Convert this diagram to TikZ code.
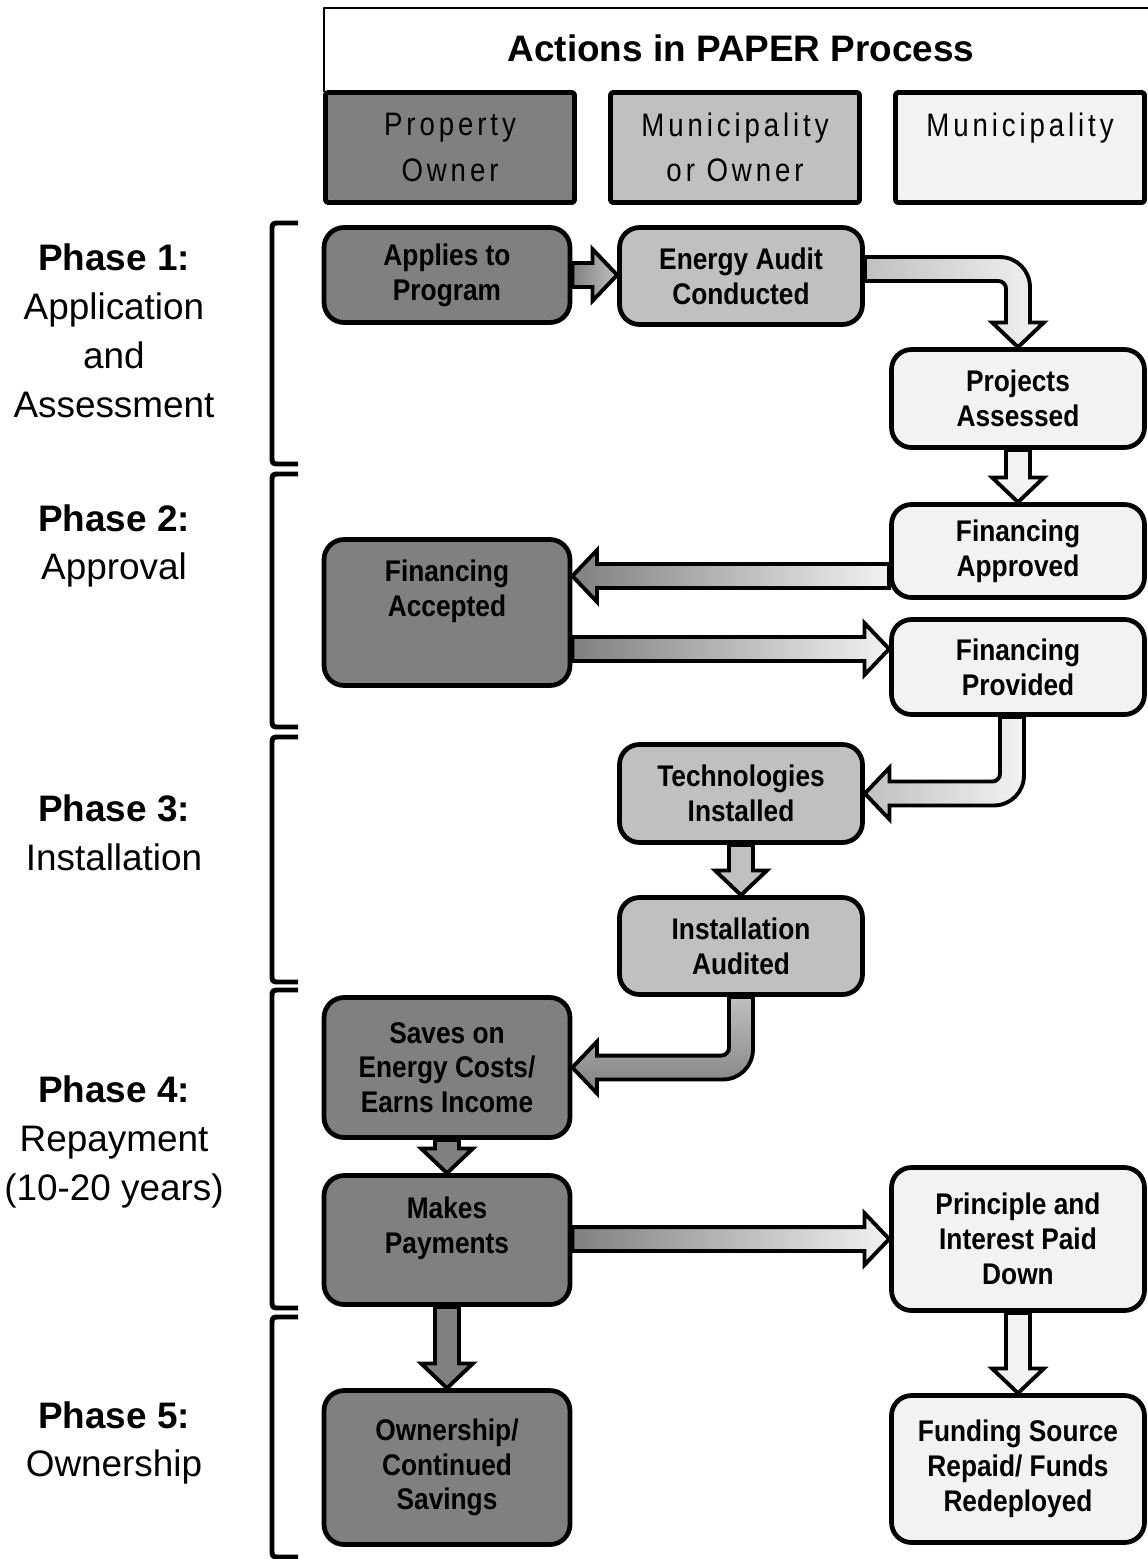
\documentclass[tikz,border=0pt]{standalone}
\usepackage{fontspec}
\setmainfont{Liberation Sans}
\newfontfamily\boxfont[FakeStretch=0.88]{Liberation Sans}
\newfontfamily\headfont[FakeStretch=0.85,LetterSpace=12]{Liberation Sans}
\usetikzlibrary{calc,backgrounds}
\definecolor{ownergray}{RGB}{128,128,128}
\definecolor{eithergray}{RGB}{192,192,192}
\definecolor{munigray}{RGB}{242,242,242}

\begin{document}
\begin{tikzpicture}[x=0.02cm, y=-0.02cm, line join=round,
  stepbox/.style={draw, rounded corners=0.4cm, line width=2.7pt, align=center,
    font=\boxfont\bfseries\fontsize{17}{19.8}\selectfont},
  ownerbox/.style={stepbox, fill=ownergray, minimum width=4.92cm},
  eitherbox/.style={stepbox, fill=eithergray, minimum width=4.86cm},
  munibox/.style={stepbox, fill=munigray, minimum width=5.06cm},
  headbox/.style={draw, line width=2.8pt, rounded corners=1.5pt, minimum width=4.98cm,
    minimum height=2.2cm, align=center, font=\headfont\fontsize{18.5}{26}\selectfont},
  phase/.style={align=center, font=\fontsize{21}{27.8}\selectfont},
  bracket/.style={line width=2.8pt},
  blockarrow/.style={line width=2.2pt, to path={
    let \p1=(\tikztostart), \p2=(\tikztotarget),
        \n1={atan2(\y2-\y1,\x2-\x1)}, \p3=($(\p2)+(\n1+180:14pt)$) in
    ($(\p1)+(\n1+90:6.8pt)$) -- ($(\p3)+(\n1+90:6.8pt)$) -- ($(\p3)+(\n1+90:14.7pt)$)
    -- (\p2) -- ($(\p3)+(\n1-90:14.7pt)$) -- ($(\p3)+(\n1-90:6.8pt)$)
    -- ($(\p1)+(\n1-90:6.8pt)$) -- cycle}},
  turndown/.style={line width=2.2pt, to path={
    let \p1=(\tikztostart), \p2=(\tikztotarget) in
    (\x1,\y1+6.8pt) -- (\x2-10.2pt,\y1+6.8pt) arc[start angle=90, end angle=0, radius=17pt]
    -- (\x2+6.8pt,\y2+14pt) -- (\x2+14.7pt,\y2+14pt) -- (\p2) -- (\x2-14.7pt,\y2+14pt)
    -- (\x2-6.8pt,\y2+14pt) -- (\x2-6.8pt,\y1-11.3pt) arc[start angle=0, end angle=90, radius=4.5pt]
    -- (\x1,\y1-6.8pt) -- cycle}},
  turnleft/.style={line width=2.2pt, to path={
    let \p1=(\tikztostart), \p2=(\tikztotarget) in
    (\x1+6.8pt,\y1) -- (\x1+6.8pt,\y2+10.2pt) arc[start angle=0, end angle=-90, radius=17pt]
    -- (\x2+14pt,\y2-6.8pt) -- (\x2+14pt,\y2-14.7pt) -- (\p2) -- (\x2+14pt,\y2+14.7pt)
    -- (\x2+14pt,\y2+6.8pt) -- (\x1-11.3pt,\y2+6.8pt) arc[start angle=-90, end angle=0, radius=4.5pt]
    -- (\x1-6.8pt,\y1) -- cycle}}]
\useasboundingbox (0,0) rectangle (1147,1559);

% title and columns
\node[font=\bfseries\fontsize{21}{25}\selectfont] (title) at (741,48) {Actions in PAPER Process};
\draw[line width=0.9pt] (324,92) -- (324,8) -- (1160,8);
\node[headbox, fill=ownergray] (hpo) at (450,147.5) {Property\\Owner};
\node[headbox, fill=eithergray] (hmo) at (735,147.5) {Municipality\\or Owner};
\node[headbox, fill=munigray] (hm) at (1020,147.5) {Municipality\\~};

% phases
\foreach \ya/\yb in {223/464,474/727,737/982,990/1308,1317/1557}
  \draw[bracket] (298,\ya) -- (280,\ya) .. controls (272,\ya) .. (272,\ya+8)
    -- (272,\yb-8) .. controls (272,\yb) .. (280,\yb) -- (298,\yb);
\node[phase] (ph1) at (114,331) {\textbf{Phase 1:}\\Application\\and\\Assessment};
\node[phase] (ph2) at (114,546) {\textbf{Phase 2:}\\Approval};
\node[phase] (ph3) at (114,833) {\textbf{Phase 3:}\\Installation};
\node[phase] (ph4) at (114,1142) {\textbf{Phase 4:}\\Repayment\\(10-20 years)};
\node[phase] (ph5) at (114,1443) {\textbf{Phase 5:}\\Ownership};

% steps
\node[ownerbox, minimum height=1.9cm] (app) at (447,275) {Applies to\\Program};
\node[eitherbox, minimum height=1.94cm] (ea) at (741,276) {Energy Audit\\Conducted};
\node[munibox, minimum height=1.96cm] (pa) at (1018,398.5) {Projects\\Assessed};
\node[munibox, minimum height=1.86cm] (fapp) at (1018,551) {Financing\\Approved};
\node[ownerbox, minimum height=2.92cm] (facc) at (447,612.5) {Financing\\Accepted\\[8pt]~};
\node[munibox, minimum height=1.9cm] (fprov) at (1018,667) {Financing\\Provided};
\node[eitherbox, minimum height=1.96cm] (ti) at (741,793.5) {Technologies\\Installed};
\node[eitherbox, minimum height=1.94cm] (ia) at (741,946) {Installation\\Audited};
\node[ownerbox, minimum height=2.8cm] (saves) at (447,1067.5) {Saves on\\Energy Costs/\\Earns Income};
\node[ownerbox, minimum height=2.58cm] (pay) at (447,1240) {Makes\\Payments\\[-3pt]~};
\node[munibox, minimum height=2.86cm] (pid) at (1018,1239) {Principle and\\Interest Paid\\Down};
\node[ownerbox, minimum height=3.08cm] (own) at (447,1467.5) {Ownership/\\Continued\\Savings};
\node[munibox, minimum height=2.94cm] (fund) at (1018,1469) {Funding Source\\Repaid/ Funds\\Redeployed};

% arrows
\coordinate (c2) at ($(ea.east)+(0,-7)$);
\coordinate (c4) at ($(fapp.west)+(0,25)$);
\coordinate (c5) at ($(fprov.west)+(0,-18)$);
\coordinate (c6) at ($(fprov.south)+(-6,0)$);
\begin{scope}[on background layer]
\draw[blockarrow, left color=ownergray, right color=eithergray] (app.east) to (ea.west |- app.east);
\draw[turndown, left color=eithergray, right color=munigray] (c2) to (pa.north);
\draw[blockarrow, fill=munigray] (pa.south) to (fapp.north);
\draw[blockarrow, left color=ownergray, right color=munigray] (c4) to (facc.east |- c4);
\draw[blockarrow, left color=ownergray, right color=munigray] (facc.east |- c5) to (c5);
\draw[turnleft, left color=eithergray, right color=munigray] (c6) to (ti.east);
\draw[blockarrow, fill=eithergray] (ti.south) to (ia.north);
\draw[turnleft, top color=eithergray, bottom color=ownergray] (ia.south) to (saves.east);
\draw[blockarrow, fill=ownergray] (saves.south) to (pay.north);
\draw[blockarrow, left color=ownergray, right color=munigray] (pay.east |- pid.west) to (pid.west);
\draw[blockarrow, fill=ownergray] (pay.south) to (own.north);
\draw[blockarrow, fill=munigray] (pid.south) to (fund.north);
\end{scope}
\end{tikzpicture}
\end{document}
